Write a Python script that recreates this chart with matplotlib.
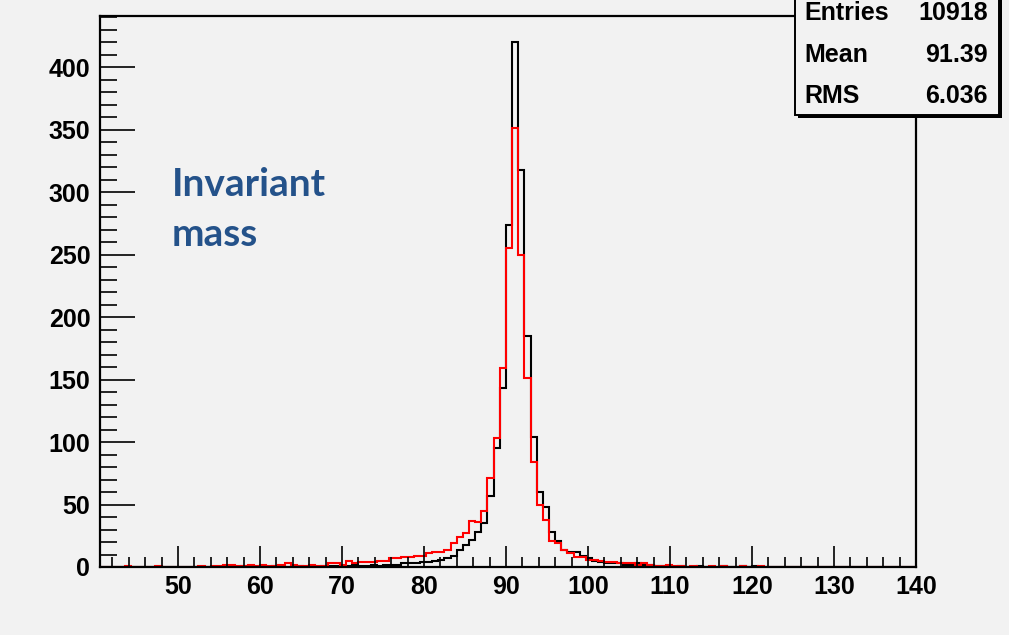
import matplotlib.pyplot as plt
import numpy as np
from matplotlib.patches import Rectangle
from matplotlib.ticker import MultipleLocator

# histogram binning: 0.75 GeV bins starting at 40.5
bin_low = 40.5
bin_width = 0.75

# black histogram (bin contents)
black_counts = [
    0, 0, 0, 0, 0, 0, 0, 0, 0, 0, 0, 0, 0, 0, 0, 0, 0, 0, 0, 0,   # 40.5 - 55.5
    1, 0, 0, 1, 0, 0, 0, 0, 1, 0, 0, 0, 1, 0,                     # 55.5 - 66.0
    1, 0, 1, 1, 1, 0,                                             # 66.0 - 70.5
    1, 2, 1, 1, 2, 1, 2, 2, 2, 3, 3, 3, 4, 4,                     # 70.5 - 81.0
    5, 6, 7, 9, 14, 18, 22, 28, 35, 57, 95, 143,                  # 81.0 - 90.0
    274, 420, 318, 185, 104, 60, 48, 28, 21, 14, 12, 12, 9, 7,   # 90.0 - 100.5
    5, 4, 3, 3, 3, 2, 2, 3, 2, 2, 1, 1, 1,                        # 100.5 - 110.25
    0, 1, 0, 0, 1, 0, 0, 0, 1, 0, 0, 1, 0, 1, 0, 0, 0, 0, 0, 0,   # 110.25 - 125.25
    0, 0, 0, 0, 0, 0, 0, 0, 0, 0, 0, 0, 0, 0, 0, 0, 0, 0, 0, 0,   # 125.25 - 140.25
]

# red histogram
red_counts = [
    0, 0, 0, 0, 1, 0, 0, 0, 0, 1, 0, 0, 0, 0, 0, 0, 1, 0, 1, 1,   # 40.5 - 55.5
    2, 2, 1, 1, 2, 1, 2, 1, 1, 2, 3, 2, 1, 1,                     # 55.5 - 66.0
    2, 1, 1, 3, 3, 2,                                             # 66.0 - 70.5
    5, 3, 4, 4, 4, 5, 5, 7, 7, 8, 8, 9, 9, 11,                    # 70.5 - 81.0
    12, 12, 14, 19, 24, 27, 37, 36, 45, 71, 103, 159,             # 81.0 - 90.0
    255, 351, 250, 151, 84, 50, 38, 21, 19, 14, 11, 8, 8, 6,     # 90.0 - 100.5
    6, 5, 4, 4, 3, 3, 3, 2, 3, 2, 1, 1, 2,                        # 100.5 - 110.25
    1, 1, 0, 1, 0, 0, 1, 0, 1, 0, 0, 1, 0, 0, 1, 0, 0, 0, 0, 0,   # 110.25 - 125.25
    0, 0, 0, 0, 0, 0, 0, 0, 0, 0, 0, 0, 0, 0, 0, 0, 0, 0, 0, 0,   # 125.25 - 140.25
]

stat_names = ['Entries', 'Mean', 'RMS']
stat_values = ['10918', '91.39', '6.036']

x_ticks = [50, 60, 70, 80, 90, 100, 110, 120, 130, 140]
y_ticks = [0, 50, 100, 150, 200, 250, 300, 350, 400]

edges = bin_low + bin_width * np.arange(len(black_counts) + 1)

plt.rcParams['font.family'] = ['Liberation Sans', 'DejaVu Sans']
plt.rcParams['font.weight'] = 'bold'

W, H = 1009, 635
bg = '#f2f2f2'
fig = plt.figure(figsize=(W / 100, H / 100), dpi=100, facecolor=bg)
ax = fig.add_axes([100 / W, 1 - 567 / H, 816 / W, 551 / H])
ax.set_facecolor(bg)

ax.stairs(black_counts, edges, color='black', linewidth=1.5)
ax.stairs(red_counts, edges, color='red', linewidth=1.5)

ax.set_xlim(bin_low, 140)
ax.set_ylim(0, max(black_counts) * 1.05)

ax.set_xticks(x_ticks)
ax.set_yticks(y_ticks)
ax.xaxis.set_minor_locator(MultipleLocator(2))
ax.yaxis.set_minor_locator(MultipleLocator(10))
ax.tick_params(axis='x', which='major', direction='in', length=15, width=1.2,
               labelsize=18, pad=6, top=False)
ax.tick_params(axis='x', which='minor', direction='in', length=7, width=1.2, top=False)
ax.tick_params(axis='y', which='major', direction='in', length=25, width=1.2,
               labelsize=18, pad=7, right=False)
ax.tick_params(axis='y', which='minor', direction='in', length=12, width=1.2, right=False)
for s in ax.spines.values():
    s.set_linewidth(1.6)

# annotation
for word, base in [('Invariant', 196), ('mass', 246)]:
    fig.text(172 / W, 1 - base / H, word, fontsize=28, color='#24528a',
             family=['Lato', 'DejaVu Sans'], fontweight='bold', va='baseline')

# stats box (ROOT style, with shadow)
bx0, bx1, by1 = 795, 999, 115
fig.patches.append(Rectangle(((bx0 + 3) / W, 1 - (by1 + 3) / H), (bx1 - bx0) / W,
                             (by1 + 10) / H, transform=fig.transFigure,
                             facecolor='black', edgecolor='none', zorder=5))
fig.patches.append(Rectangle((bx0 / W, 1 - by1 / H), (bx1 - bx0) / W,
                             (by1 + 10) / H, transform=fig.transFigure,
                             facecolor=bg, edgecolor='black', linewidth=1.4,
                             zorder=6))
row_y = [13, 55, 96]
for name, val, yy in zip(stat_names, stat_values, row_y):
    fig.text(804 / W, 1 - yy / H, name, fontsize=18, fontweight='bold',
             va='center', ha='left', zorder=7)
    fig.text(988 / W, 1 - yy / H, val, fontsize=18, fontweight='bold',
             va='center', ha='right', zorder=7)

fig.savefig('out.png', dpi=100, facecolor=bg)
